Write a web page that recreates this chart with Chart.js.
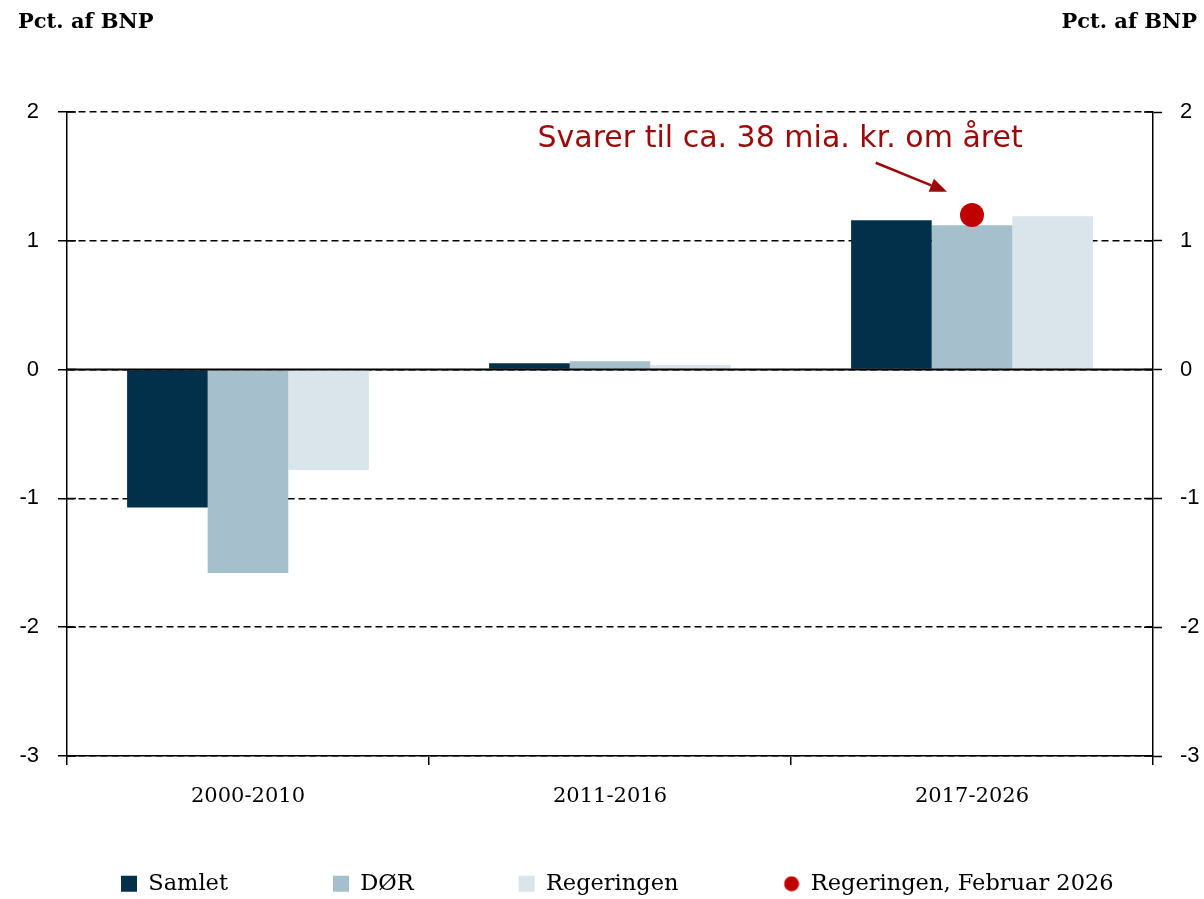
<!DOCTYPE html>
<html>
<head>
<meta charset="utf-8">
<script src="https://cdn.jsdelivr.net/npm/chart.js@4/dist/chart.umd.min.js"></script>
<style>
  html, body { margin: 0; padding: 0; background: #ffffff; overflow: hidden; }
  #wrap { position: relative; width: 1204px; height: 899px; }
</style>
</head>
<body>
<div id="wrap"><canvas id="c"></canvas></div>
<script>
// ---- data ----
const categories = ['2000-2010', '2011-2016', '2017-2026'];
const samlet = [-1.07, 0.05, 1.16];
const dor = [-1.58, 0.065, 1.12];
const regeringen = [-0.78, 0.035, 1.19];
const regeringenFeb2026 = [null, null, 1.20];
const seriesNames = ['Samlet', 'DØR', 'Regeringen', 'Regeringen, Februar 2026'];
const yMin = -3, yMax = 2, yStep = 1;
const axisTitle = 'Pct. af BNP';
const annotationText = 'Svarer til ca. 38 mia. kr. om året';

// annotation placement in data units (category index, value)
const annTextAt = [1.47, 1.728];
const annArrowFrom = [1.734, 1.606];
const annArrowTo = [1.931, 1.381];

const colDark = '#02304a';
const colMid = '#a5bfcd';
const colLight = '#dae5eb';
const colRed = '#c00000';
const colAnn = '#9b0a0a';

const serif = '"DejaVu Serif", "Liberation Serif", serif';
const sans = '"Liberation Sans", Arial, sans-serif';

// small circle image for legend
const dotImg = document.createElement('canvas');
dotImg.width = 16; dotImg.height = 16;
(function(){ const g = dotImg.getContext('2d'); g.fillStyle = colRed; g.beginPath(); g.arc(8, 8, 7.5, 0, Math.PI*2); g.fill(); })();

const legendPlacePlugin = {
  id: 'legendPlace',
  afterLayout(chart) {
    const lg = chart.legend;
    if (!lg) return;
    lg.top = 767.5;
    lg.bottom = 899;
    lg.height = lg.bottom - lg.top;
    lg.right = 1600;
    lg.width = lg.right - lg.left;
  }
};

const extrasPlugin = {
  id: 'extras',
  afterDatasetsDraw(chart) {
    const {ctx, chartArea, scales} = chart;
    const x = scales.x, y = scales.y;
    ctx.save();
    // zero line
    const y0 = y.getPixelForValue(0);
    ctx.strokeStyle = '#000'; ctx.lineWidth = 2; ctx.setLineDash([]);
    ctx.beginPath(); ctx.moveTo(chartArea.left, y0); ctx.lineTo(chartArea.right, y0); ctx.stroke();
    // inner tick marks on both y axes
    ctx.lineWidth = 1.5;
    y.ticks.forEach(t => {
      const py = y.getPixelForValue(t.value);
      ctx.beginPath();
      ctx.moveTo(chartArea.left, py); ctx.lineTo(chartArea.left + 9, py);
      ctx.moveTo(chartArea.right - 9, py); ctx.lineTo(chartArea.right, py);
      ctx.stroke();
    });
    // annotation text
    ctx.fillStyle = colAnn;
    ctx.font = '30px "DejaVu Sans", sans-serif';
    ctx.textAlign = 'center'; ctx.textBaseline = 'alphabetic';
    ctx.fillText(annotationText, x.getPixelForValue(annTextAt[0]), y.getPixelForValue(annTextAt[1]));
    // arrow
    const x1 = x.getPixelForValue(annArrowFrom[0]), y1 = y.getPixelForValue(annArrowFrom[1]);
    const x2 = x.getPixelForValue(annArrowTo[0]), y2 = y.getPixelForValue(annArrowTo[1]);
    const ang = Math.atan2(y2 - y1, x2 - x1);
    const hl = 17, hw = 7;
    const bx = x2 - hl * Math.cos(ang), by = y2 - hl * Math.sin(ang);
    ctx.strokeStyle = colAnn; ctx.lineWidth = 2.5;
    ctx.beginPath(); ctx.moveTo(x1, y1); ctx.lineTo(bx, by); ctx.stroke();
    ctx.beginPath();
    ctx.moveTo(x2, y2);
    ctx.lineTo(bx + hw * Math.sin(ang), by - hw * Math.cos(ang));
    ctx.lineTo(bx - hw * Math.sin(ang), by + hw * Math.cos(ang));
    ctx.closePath(); ctx.fill();
    // axis titles
    ctx.fillStyle = '#000';
    ctx.font = 'bold 21px ' + serif;
    ctx.textAlign = 'left';
    ctx.fillText(axisTitle, 18, 28);
    ctx.textAlign = 'right';
    ctx.fillText(axisTitle, 1197, 28);
    ctx.restore();
  }
};

new Chart(document.getElementById('c'), {
  type: 'bar',
  data: {
    labels: categories,
    datasets: [
      { label: seriesNames[0], data: samlet, backgroundColor: colDark, borderWidth: 0, pointStyle: 'rect', categoryPercentage: 0.668, barPercentage: 1.0 },
      { label: seriesNames[1], data: dor, backgroundColor: colMid, borderWidth: 0, pointStyle: 'rect', categoryPercentage: 0.668, barPercentage: 1.0 },
      { label: seriesNames[2], data: regeringen, backgroundColor: colLight, borderWidth: 0, pointStyle: 'rect', categoryPercentage: 0.668, barPercentage: 1.0 },
      { type: 'line', label: seriesNames[3], data: regeringenFeb2026, showLine: false, pointRadius: 12, pointHoverRadius: 12,
        backgroundColor: colRed, borderColor: colRed, borderWidth: 0, pointBorderWidth: 0, order: -1 }
    ]
  },
  options: {
    responsive: true,
    maintainAspectRatio: false,
    animation: false,
    layout: { padding: { top: 112, left: 16, right: 0, bottom: 53 } },
    scales: {
      x: {
        offset: true,
        grid: { display: true, drawOnChartArea: false, offset: true, color: '#000', tickColor: '#000', tickLength: 9, lineWidth: 1.5 },
        border: { display: true, color: '#000', width: 1.5 },
        ticks: { color: '#000', font: { family: serif, size: 21 }, padding: 19, maxRotation: 0 },
        afterFit(s) { s.height = 60; }
      },
      y: {
        position: 'left',
        min: yMin, max: yMax,
        ticks: { stepSize: yStep, color: '#000', font: { family: sans, size: 22 }, padding: 19 },
        grid: { color: '#000', lineWidth: 1.5, tickLength: 9, tickColor: '#000', tickWidth: 1.5 },
        border: { display: true, color: '#000', width: 1.5, dash: [7, 4] },
        afterFit(s) { s.width = 51; }
      },
      y2: {
        position: 'right',
        min: yMin, max: yMax,
        ticks: { stepSize: yStep, color: '#000', font: { family: sans, size: 22 }, padding: 18 },
        grid: { drawOnChartArea: false, color: '#000', tickLength: 9, tickColor: '#000', tickWidth: 1.5 },
        border: { display: true, color: '#000', width: 1.5 },
        afterFit(s) { s.width = 51; }
      }
    },
    plugins: {
      tooltip: { enabled: false },
      legend: {
        position: 'bottom',
        align: 'start',
        maxHeight: 30,
        labels: {
          usePointStyle: true,
          boxWidth: 16, boxHeight: 16,
          padding: 105,
          color: '#000',
          font: { family: serif, size: 22.5 },
          sort: (a, b) => a.datasetIndex - b.datasetIndex,
          generateLabels(chart) {
            const items = Chart.defaults.plugins.legend.labels.generateLabels(chart);
            items.forEach(it => {
              it.pointStyle = it.datasetIndex === 3 ? dotImg : 'rect';
              it.lineWidth = 0;
              it.strokeStyle = 'rgba(0,0,0,0)';
            });
            return items;
          }
        }
      }
    }
  },
  plugins: [legendPlacePlugin, extrasPlugin]
});
</script>
</body>
</html>
